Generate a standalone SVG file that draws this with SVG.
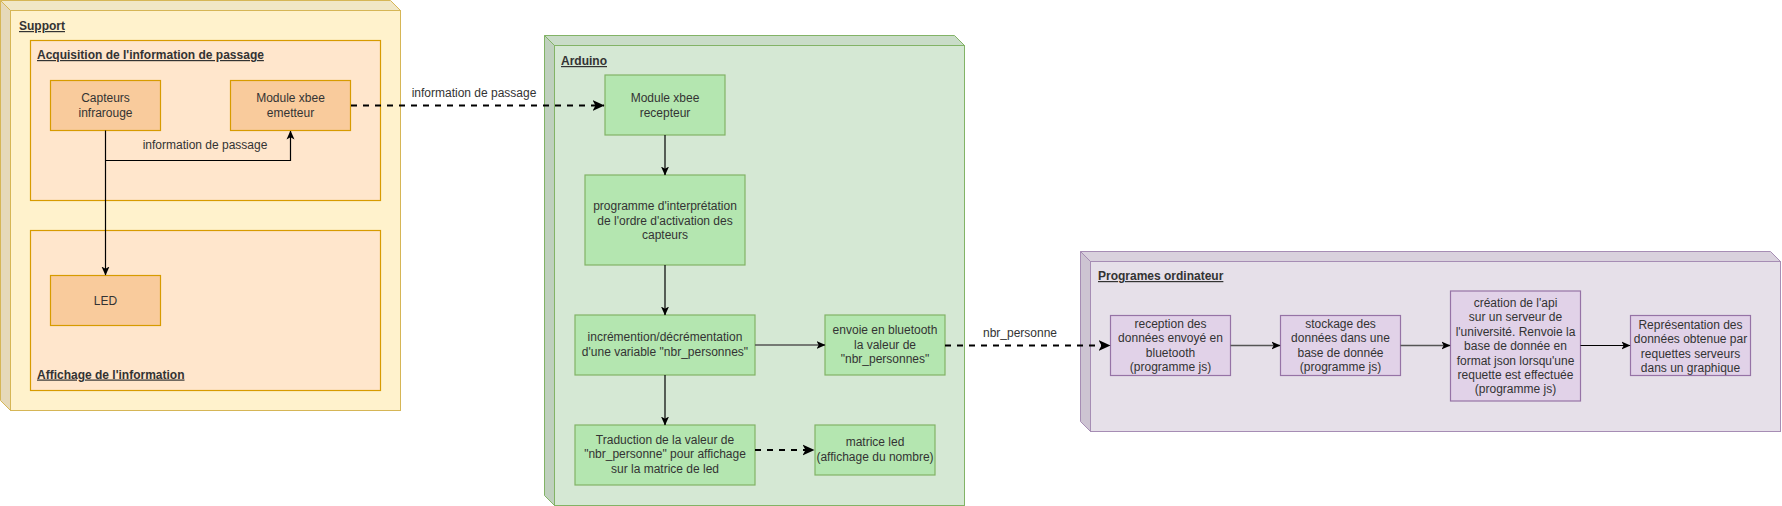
<svg xmlns="http://www.w3.org/2000/svg" width="1782" height="506" viewBox="0 0 1782 506">
<style>
text{font-family:"Liberation Sans",Arial,sans-serif;font-size:12px;fill:#333333}
.t{text-anchor:middle}
.title{font-weight:bold;text-decoration:underline;fill:#333333}
.or{fill:#f9cb9c;stroke:#d79b00;stroke-width:1.2}
.orc{fill:#ffe6cc;stroke:#d79b00;stroke-width:1.2}
.gr{fill:#b4e6b0;stroke:#82b366;stroke-width:1.2}
.pu{fill:#e1d2e8;stroke:#9673a6;stroke-width:1.2}
.e{fill:none;stroke:#000;stroke-width:1.2}
.eg{fill:none;stroke:#555;stroke-width:1.5}
.d{fill:none;stroke:#000;stroke-width:2.2;stroke-dasharray:6 6}
</style>
<defs>
<marker id="a" markerUnits="userSpaceOnUse" markerWidth="9" markerHeight="9" viewBox="0 0 9 9" refX="8.5" refY="4.5" orient="auto">
<path d="M0,0.5 L9,4.5 L0,8.5 L2.2,4.5 Z" fill="#000"/>
</marker>
<marker id="ad" markerUnits="userSpaceOnUse" markerWidth="12" markerHeight="12" viewBox="0 0 12 12" refX="11.5" refY="6" orient="auto">
<path d="M0,0.5 L12,6 L0,11.5 L3,6 Z" fill="#000"/>
</marker>
</defs>

<g id="support">
<polygon points="0.5,0.5 390.5,0.5 400.5,10.5 10.5,10.5" fill="#f1e7c6" stroke="#d6b656"/>
<polygon points="0.5,0.5 10.5,10.5 10.5,410.5 0.5,400.5" fill="#e6d9b9" stroke="#d6b656"/>
<rect x="10.5" y="10.5" width="390" height="400" fill="#fff2cc" stroke="#d6b656"/>
<text class="title" x="19" y="30">Support</text>
</g>
<g id="acquisition">
<rect class="orc" x="30.5" y="40.5" width="350" height="160"/>
<text class="title" x="37" y="59">Acquisition de l'information de passage</text>
</g>
<g id="affichage">
<rect class="orc" x="30.5" y="230.5" width="350" height="160"/>
<text class="title" x="37" y="378.5">Affichage de l'information</text>
</g>
<g id="capteurs">
<rect class="or" x="50.5" y="80.5" width="110" height="50"/>
<text class="t" x="105.5" y="102">Capteurs</text>
<text class="t" x="105.5" y="117">infrarouge</text>
</g>
<g id="emetteur">
<rect class="or" x="230.5" y="80.5" width="120" height="50"/>
<text class="t" x="290.5" y="102">Module xbee</text>
<text class="t" x="290.5" y="117">emetteur</text>
</g>
<g id="led">
<rect class="or" x="50.5" y="275.5" width="110" height="50"/>
<text class="t" x="105.5" y="304.5">LED</text>
</g>

<g id="arduino">
<polygon points="544.5,35.5 954.5,35.5 964.5,45.5 554.5,45.5" fill="#c9dcc8" stroke="#82b366"/>
<polygon points="544.5,35.5 554.5,45.5 554.5,505.5 544.5,495.5" fill="#bfd0be" stroke="#82b366"/>
<rect x="554.5" y="45.5" width="410" height="460" fill="#d5e8d4" stroke="#82b366"/>
<text class="title" x="561" y="65">Arduino</text>
</g>
<g id="recepteur">
<rect class="gr" x="605" y="75" width="120" height="60"/>
<text class="t" x="665" y="102">Module xbee</text>
<text class="t" x="665" y="117">recepteur</text>
</g>
<g id="programme">
<rect class="gr" x="585" y="175" width="160" height="90"/>
<text class="t" x="665" y="210">programme d'interprétation</text>
<text class="t" x="665" y="224.5">de l'ordre d'activation des</text>
<text class="t" x="665" y="239">capteurs</text>
</g>
<g id="increment">
<rect class="gr" x="575" y="315" width="180" height="60"/>
<text class="t" x="665" y="341">incrémention/décrémentation</text>
<text class="t" x="665" y="355.5">d'une variable "nbr_personnes"</text>
</g>
<g id="envoie">
<rect class="gr" x="825" y="315" width="120" height="60"/>
<text class="t" x="885" y="334">envoie en bluetooth</text>
<text class="t" x="885" y="348.5">la valeur de</text>
<text class="t" x="885" y="363">"nbr_personnes"</text>
</g>
<g id="traduction">
<rect class="gr" x="575" y="425" width="180" height="60"/>
<text class="t" x="665" y="443.5">Traduction de la valeur de</text>
<text class="t" x="665" y="458">"nbr_personne" pour affichage</text>
<text class="t" x="665" y="472.5">sur la matrice de led</text>
</g>
<g id="matrice">
<rect class="gr" x="815" y="425" width="120" height="50"/>
<text class="t" x="875" y="446">matrice led</text>
<text class="t" x="875" y="460.5">(affichage du nombre)</text>
</g>

<g id="programes">
<polygon points="1080.5,251.5 1770.5,251.5 1780.5,261.5 1090.5,261.5" fill="#d9d1dd" stroke="#a68db4"/>
<polygon points="1080.5,251.5 1090.5,261.5 1090.5,431.5 1080.5,421.5" fill="#cdc4d2" stroke="#a68db4"/>
<rect x="1090.5" y="261.5" width="690" height="170" fill="#e6e0e9" stroke="#a68db4"/>
<text class="title" x="1098" y="280">Programes ordinateur</text>
</g>
<g id="reception">
<rect class="pu" x="1110.5" y="315.5" width="120" height="60"/>
<text class="t" x="1170.5" y="327.5">reception des</text>
<text class="t" x="1170.5" y="342">données envoyé en</text>
<text class="t" x="1170.5" y="356.5">bluetooth</text>
<text class="t" x="1170.5" y="371">(programme js)</text>
</g>
<g id="stockage">
<rect class="pu" x="1280.5" y="315.5" width="120" height="60"/>
<text class="t" x="1340.5" y="327.5">stockage des</text>
<text class="t" x="1340.5" y="342">données dans une</text>
<text class="t" x="1340.5" y="356.5">base de donnée</text>
<text class="t" x="1340.5" y="371">(programme js)</text>
</g>
<g id="creation">
<rect class="pu" x="1450.5" y="291" width="130" height="110"/>
<text class="t" x="1515.5" y="306.5">création de l'api</text>
<text class="t" x="1515.5" y="321">sur un serveur de</text>
<text class="t" x="1515.5" y="335.5">l'université. Renvoie la</text>
<text class="t" x="1515.5" y="350">base de donnée en</text>
<text class="t" x="1515.5" y="364.5">format json lorsqu'une</text>
<text class="t" x="1515.5" y="379">requette est effectuée</text>
<text class="t" x="1515.5" y="393">(programme js)</text>
</g>
<g id="representation">
<rect class="pu" x="1630.5" y="315.5" width="120" height="60"/>
<text class="t" x="1690.5" y="329">Représentation des</text>
<text class="t" x="1690.5" y="343">données obtenue par</text>
<text class="t" x="1690.5" y="357.5">requettes serveurs</text>
<text class="t" x="1690.5" y="372">dans un graphique</text>
</g>

<g id="connectors">
<path class="e" d="M105.5,130.5 V275" marker-end="url(#a)"/>
<path class="e" d="M105.5,160.5 H290.5 V131" marker-end="url(#a)"/>
<text class="t" x="205" y="149">information de passage</text>
<path class="d" d="M351,105.5 H604" marker-end="url(#ad)"/>
<text class="t" x="474" y="97">information de passage</text>
<path class="e" d="M665,135 V175" marker-end="url(#a)"/>
<path class="e" d="M665,265 V315" marker-end="url(#a)"/>
<path class="eg" d="M755,345 H825" marker-end="url(#a)"/>
<path class="e" d="M665,375 V425" marker-end="url(#a)"/>
<path class="d" d="M755,450 H814" marker-end="url(#ad)"/>
<path class="d" d="M945,345.5 H1110" marker-end="url(#ad)"/>
<text class="t" x="1020" y="337">nbr_personne</text>
<path class="eg" d="M1230.5,345.5 H1280" marker-end="url(#a)"/>
<path class="eg" d="M1400.5,345.5 H1450" marker-end="url(#a)"/>
<path class="e" d="M1580.5,345.5 H1630" marker-end="url(#a)"/>
</g>
</svg>
